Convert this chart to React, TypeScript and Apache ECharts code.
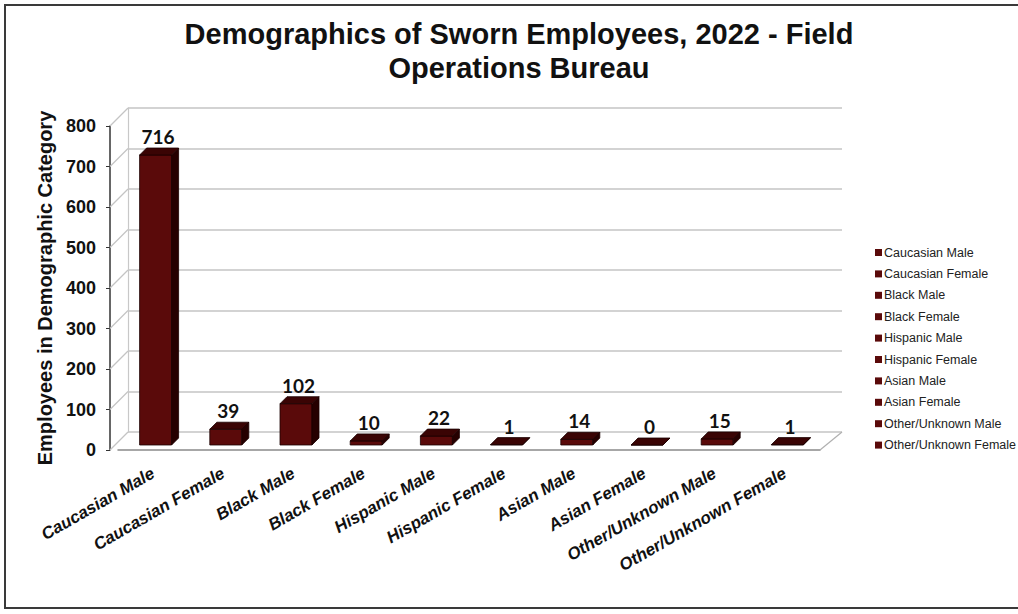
import React, { useEffect, useRef } from "react";
import * as echarts from "echarts";

const titleText = "Demographics of Sworn Employees, 2022 - Field\nOperations Bureau";
const yAxisName = "Employees in Demographic Category";
const categories = [
  "Caucasian Male",
  "Caucasian Female",
  "Black Male",
  "Black Female",
  "Hispanic Male",
  "Hispanic Female",
  "Asian Male",
  "Asian Female",
  "Other/Unknown Male",
  "Other/Unknown Female",
];
const values = [716, 39, 102, 10, 22, 1, 14, 0, 15, 1];
const yTicks = [0, 100, 200, 300, 400, 500, 600, 700, 800];

const FRONT = "#5a0a0a";
const SIDE = "#260000";
const TOP = "#3a0404";

export default function App() {
  const ref = useRef<HTMLDivElement>(null);
  useEffect(() => {
    if (!ref.current) return;
    const chart = echarts.init(ref.current, null, { renderer: "svg" });

    const barRender = (params: any, api: any) => {
      const idx = api.value(0);
      const v = api.value(1);
      const c = api.coord([idx, v]);
      const b = api.coord([idx, 0]);
      const back = 5;
      const dx = 7;
      const dy = 7;
      const x1 = c[0] - 13.5;
      const x2 = c[0] + 18.5;
      const t = c[1] - back;
      const bot = b[1] - back;
      const stroke = { stroke: "#1a0000", lineWidth: 0.8 };
      return {
        type: "group",
        children: [
          {
            type: "polygon",
            shape: { points: [[x1, t], [x2, t], [x2, bot], [x1, bot]] },
            style: { fill: FRONT, ...stroke },
          },
          {
            type: "polygon",
            shape: { points: [[x2, t], [x2 + dx, t - dy], [x2 + dx, bot - dy], [x2, bot]] },
            style: { fill: SIDE, ...stroke },
          },
          {
            type: "polygon",
            shape: { points: [[x1, t], [x2, t], [x2 + dx, t - dy], [x1 + dx, t - dy]] },
            style: { fill: TOP, ...stroke },
          },
          {
            type: "text",
            x: c[0] + 5,
            y: t - dy - 2,
            style: {
              text: String(v),
              fontSize: 19,
              fontWeight: "bold",
              fontFamily: "Lato",
              fill: "#111",
              align: "center",
              verticalAlign: "bottom",
            },
          },
        ],
      };
    };

    const decoRender = (params: any, api: any) => {
      const v = api.value(1);
      const p = api.coord([0, v]);
      const cs = params.coordSys;
      const x0 = cs.x - 8;
      const children: any[] = [
        {
          type: "line",
          shape: { x1: x0, y1: p[1], x2: x0 + 18, y2: p[1] - 18 },
          style: { stroke: "#c4c4c4", lineWidth: 1.2 },
        },
      ];
      if (v === 0) {
        children.push({
          type: "line",
          shape: { x1: cs.x + cs.width, y1: p[1], x2: cs.x + cs.width + 22, y2: p[1] - 18 },
          style: { stroke: "#b0b0b0", lineWidth: 1.2 },
        });
      }
      return { type: "group", children };
    };

    const barSeries = categories.map((name, i) => ({
      type: "custom",
      name,
      xAxisIndex: 0,
      yAxisIndex: 0,
      data: [[i, values[i]]],
      renderItem: barRender,
      itemStyle: { color: FRONT },
      z: 5,
    }));

    chart.setOption({
      animation: false,
      backgroundColor: "#ffffff",
      title: {
        text: titleText,
        left: 514,
        textAlign: "center",
        top: 12,
        textStyle: {
          fontFamily: "Liberation Sans",
          fontWeight: "bold",
          fontSize: 29,
          lineHeight: 34,
          color: "#111",
        },
      },
      legend: {
        data: categories,
        orient: "vertical",
        left: 870,
        top: 241,
        icon: "rect",
        itemWidth: 7,
        itemHeight: 7,
        itemGap: 8.4,
        textStyle: {
          fontFamily: "Liberation Sans",
          fontSize: 12.5,
          lineHeight: 13,
          color: "#222",
          padding: [0, 0, 0, -3],
        },
      },
      grid: [
        { left: 118, right: 198, top: 126, bottom: 164 },
        { left: 128, right: 176, top: 108, bottom: 182 },
      ],
      xAxis: [
        {
          type: "category",
          gridIndex: 0,
          data: categories,
          axisLine: { show: true, lineStyle: { color: "#8a8a8a", width: 1.5 } },
          axisTick: { show: false },
          axisLabel: {
            interval: 0,
            rotate: 30,
            margin: 22,
            fontFamily: "Liberation Sans",
            fontStyle: "italic",
            fontWeight: "bold",
            fontSize: 17,
            color: "#111",
          },
        },
        {
          type: "category",
          gridIndex: 1,
          data: categories,
          show: false,
        },
      ],
      yAxis: [
        {
          type: "value",
          gridIndex: 0,
          min: 0,
          max: 800,
          interval: 100,
          offset: 8,
          name: yAxisName,
          nameLocation: "middle",
          nameGap: 55,
          nameTextStyle: {
            fontFamily: "Liberation Sans",
            fontWeight: "bold",
            fontSize: 20,
            color: "#111",
          },
          axisLine: { show: true, lineStyle: { color: "#333", width: 1.5 } },
          axisTick: { show: true, length: 4, lineStyle: { color: "#333" } },
          axisLabel: {
            margin: 14,
            fontFamily: "Liberation Sans",
            fontWeight: "bold",
            fontSize: 18,
            color: "#111",
          },
          splitLine: { show: false },
        },
        {
          type: "value",
          gridIndex: 1,
          min: 0,
          max: 800,
          interval: 100,
          axisLine: { show: true, lineStyle: { color: "#c8c8c8", width: 1.2 } },
          axisTick: { show: false },
          axisLabel: { show: false },
          splitLine: { show: true, lineStyle: { color: "#c4c4c4", width: 1.5 } },
        },
      ],
      graphic: [
        {
          type: "rect",
          shape: { x: 5, y: 5, width: 1030, height: 603 },
          style: { fill: "none", stroke: "#3a3a3a", lineWidth: 2 },
          silent: true,
        },
      ],
      series: [
        {
          type: "custom",
          name: "deco",
          xAxisIndex: 0,
          yAxisIndex: 0,
          data: yTicks.map((v) => [0, v]),
          renderItem: decoRender,
          silent: true,
          z: 1,
        },
        ...barSeries,
      ],
    });
    return () => chart.dispose();
  }, []);

  return (
    <div
      ref={ref}
      style={{ position: "fixed", left: 0, top: 0, width: 1018, height: 614 }}
    />
  );
}
